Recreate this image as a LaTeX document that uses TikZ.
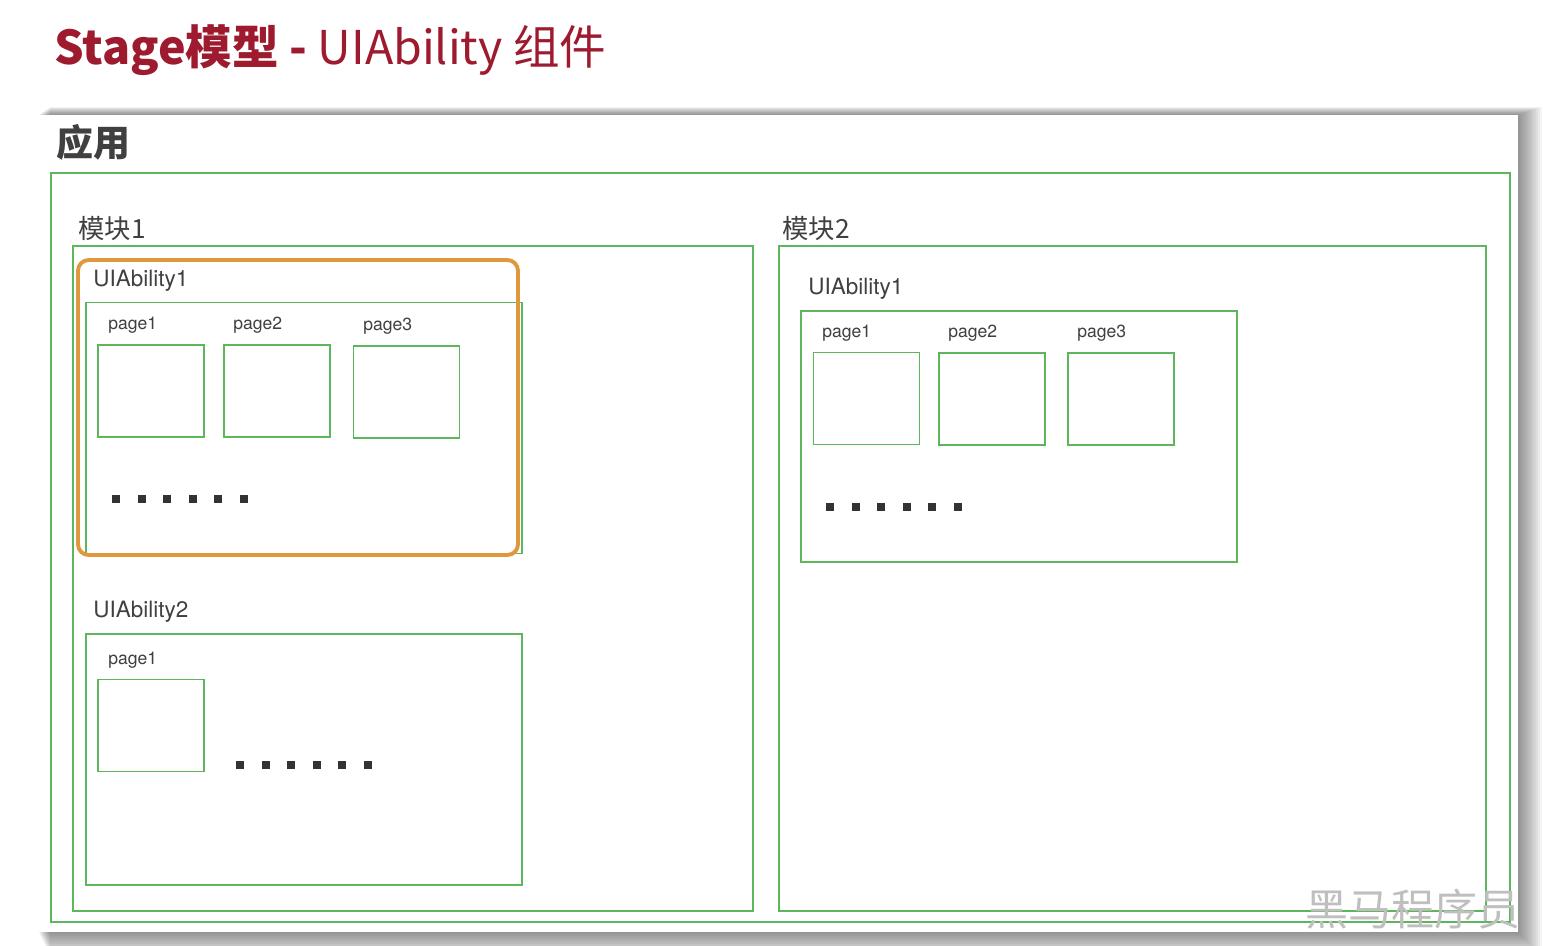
\documentclass[tikz,border=0pt]{standalone}
\usepackage{fontspec}
\setmainfont{Noto Sans CJK SC}
\newfontfamily\latinlbl{TeX Gyre Heros}
\usetikzlibrary{positioning}
\definecolor{st-red}{HTML}{9E1A2E}
\definecolor{st-text}{HTML}{404040}
\definecolor{st-green}{HTML}{5DB65A}
\definecolor{st-orange}{HTML}{E0983C}
\definecolor{st-dot}{HTML}{333333}

\begin{document}
\begin{tikzpicture}[
    x=0.02cm, y=-0.02cm,
    gbox/.style={draw=st-green, line width=1.1pt, minimum width=#1},
    pagebox/.style={draw=st-green, line width=1.1pt, minimum width=2.12cm, minimum height=1.84cm},
    abox/.style={draw=st-green, line width=1.1pt, minimum width=8.72cm, minimum height=5.02cm},
    hilite/.style={draw=st-orange, line width=2.2pt, rounded corners=6pt, minimum width=8.8cm, minimum height=5.9cm},
    modlabel/.style={anchor=west, font=\fontsize{15}{18}\selectfont, text=st-text, inner sep=0pt},
    ablabel/.style={anchor=west, font=\latinlbl\fontsize{12.8}{15}\selectfont, text=st-text, inner sep=0pt},
    pglabel/.style={anchor=west, font=\latinlbl\fontsize{10}{12}\selectfont, text=st-text, inner sep=0pt},
    dotmark/.style={fill=st-dot, minimum size=0.16cm, inner sep=0pt}
]
\useasboundingbox (0,0) rectangle (1543,946);

% =========================================================================
% FOLHA DE FUNDO COM SOMBRA
% =========================================================================
\foreach \d in {0,2,...,24} {
    \fill[black, opacity=0.045] (38+\d/2, 115-\d/3) rectangle (1518+\d, 932+\d);
}
\node[fill=white, minimum width=29.6cm, minimum height=16.34cm, inner sep=0pt] (sheet) at (778,523.5) {};

% =========================================================================
% TITULO
% =========================================================================
\node[anchor=west, inner sep=0pt, text=st-red, font=\fontsize{26.5}{30}\selectfont] (title) at (54,50)
    {\textbf{Stage模型 -} UIAbility 组件};

% =========================================================================
% APLICACAO E MODULOS
% =========================================================================
\node[anchor=west, inner sep=0pt, text=st-text, font=\fontsize{21}{24}\selectfont\bfseries] (applbl) at (56,142) {应用};
\node[gbox=29.18cm, minimum height=14.98cm] (app) at (780.5,547.5) {};

\node[gbox=13.6cm, minimum height=13.3cm] (mod1) at (413,578.5) {};
\node[gbox=14.14cm, minimum height=13.3cm] (mod2) at (1132.5,578.5) {};
\node[modlabel] (mod1lbl) at (78,229) {模块1};
\node[modlabel] (mod2lbl) at (782,229) {模块2};

% =========================================================================
% MODULO 1: UIAbility1 (destacado) e UIAbility2
% =========================================================================
\node[abox] (ab11) at (304,428) {};
\node[hilite] (focus) at (298,407.5) {};
\node[ablabel] (ab11lbl) at (93,281) {UIAbility1};

\node[pagebox] (p111) at (151,391) {};
\node[pagebox] (p112) at (277,391) {};
\node[pagebox] (p113) at (406.5,392) {};
\node[pglabel] at (108,325) {page1};
\node[pglabel] at (233,325) {page2};
\node[pglabel] at (363,326) {page3};
\foreach \i in {0,...,5} {
    \node[dotmark] at (116+25.6*\i,499) {};
}

\node[abox] (ab12) at (304,759.5) {};
\node[ablabel] (ab12lbl) at (93,612) {UIAbility2};
\node[pagebox] (p121) at (151,725.5) {};
\node[pglabel] at (108,660) {page1};
\foreach \i in {0,...,5} {
    \node[dotmark] at (240+25.6*\i,765) {};
}

% =========================================================================
% MODULO 2: UIAbility1
% =========================================================================
\node[abox] (ab21) at (1019,436.5) {};
\node[ablabel] (ab21lbl) at (808,289) {UIAbility1};
\node[pagebox] (p211) at (866.5,398.5) {};
\node[pagebox] (p212) at (992,399) {};
\node[pagebox] (p213) at (1121,399) {};
\node[pglabel] at (822,333) {page1};
\node[pglabel] at (948,333) {page2};
\node[pglabel] at (1077,333) {page3};
\foreach \i in {0,...,5} {
    \node[dotmark] at (830+25.6*\i,507) {};
}

% marca d'agua
\node[text=black!25, font=\fontsize{24.5}{28}\selectfont, inner sep=0pt] (mark) at (1413,909) {黑马程序员};

\end{tikzpicture}
\end{document}
